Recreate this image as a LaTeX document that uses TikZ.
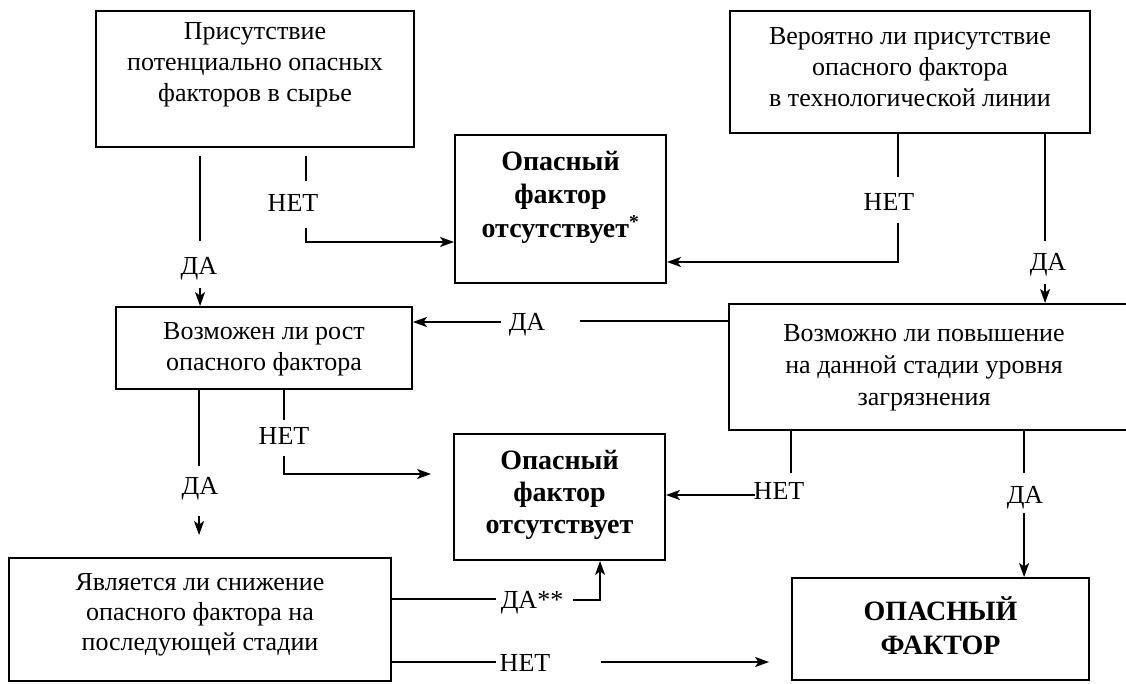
\documentclass[tikz,border=0pt]{standalone}
\usepackage{fontspec}
\setmainfont{Liberation Serif}
\usetikzlibrary{arrows.meta,calc}
\begin{document}
\begin{tikzpicture}[x=1pt,y=-1pt,
  box/.style={draw, line width=1.9pt, inner sep=0pt, rectangle},
  txt/.style={align=center, font=\fontsize{26}{31}\selectfont, inner sep=0pt},
  btxt/.style={align=center, font=\fontsize{28}{33.5}\selectfont\bfseries, inner sep=0pt},
  lab/.style={font=\fontsize{26}{31}\selectfont, inner sep=0pt, text height=17.2pt, text depth=0pt},
  con/.style={line width=1.7pt},
  arr/.style={con, -{Stealth[length=14pt,width=10pt,inset=3.5pt]}},
]
\useasboundingbox (0,0) rectangle (1126,684);
\fill[white] (0,0) rectangle (1126,684);

% boxes
\node[box, minimum width=318pt, minimum height=136pt] (A) at (255,79) {};
\node[box, minimum width=211pt, minimum height=148pt] (B) at (560.5,209) {};
\node[box, minimum width=360pt, minimum height=122pt] (C) at (910,72) {};
\node[box, minimum width=296pt, minimum height=82pt] (D) at (264,348) {};
\node[box, minimum width=399pt, minimum height=126pt] (E) at (928.5,367) {};
\node[box, minimum width=382pt, minimum height=123pt] (F) at (200,619.5) {};
\node[box, minimum width=211pt, minimum height=126pt] (G) at (559.5,497) {};
\node[box, minimum width=297pt, minimum height=102pt] (H) at (940.5,629) {};

% box texts
\node[txt] (At) at ($(A.center)+(0,-14)$) {Присутствие\\потенциально опасных\\факторов в сырье};
\node[btxt] (Bt) at ($(B.center)+(0,-12)$) {Опасный\\фактор\\отсутствует\textsuperscript{*}};
\node[txt] (Ct) at ($(C.center)+(0,-5)$) {Вероятно ли присутствие\\опасного фактора\\в технологической линии};
\node[txt] (Dt) at ($(D.center)+(0,1.5)$) {Возможен ли рост\\опасного фактора};
\node[txt, font=\fontsize{26}{32}\selectfont] (Et) at ($(E.center)+(-4.5,1)$) {Возможно ли повышение\\на данной стадии уровня\\загрязнения};
\node[txt, font=\fontsize{26}{30}\selectfont] (Ft) at ($(F.center)+(0,-4.5)$) {Является ли снижение\\опасного фактора на\\последующей стадии};
\node[btxt, font=\fontsize{28}{32}\selectfont\bfseries] (Gt) at ($(G.center)+(0,-2)$) {Опасный\\фактор\\отсутствует};
\node[btxt, font=\fontsize{28}{34}\selectfont\bfseries] (Ht) at ($(H.center)+(0,-3)$) {ОПАСНЫЙ\\ФАКТОР};

% A -> D (yes)
\draw[con] ($(A.south west)+(105,8)$) -- ++(0,85);
\draw[arr] ($(D.north west)+(85,-18)$) -- ($(D.north west)+(85,0)$);
\node[lab] (l1) at (199,266) {ДА};

% A -> B (no)
\draw[con] ($(A.south west)+(211,8)$) -- ++(0,25);
\draw[arr] ($(A.south west)+(211,80)$) |- ($(B.west)+(0,33)$);
\node[lab] (l2) at (293,203) {НЕТ};

% C -> B (no)
\draw[con] ($(C.south west)+(169,0)$) -- ++(0,43);
\draw[arr] ($(C.south west)+(169,89)$) |- ($(B.east)+(0,53)$);
\node[lab] (l3) at (889,202) {НЕТ};

% C -> E (yes)
\draw[con] ($(C.south west)+(316,0)$) -- ++(0,107);
\draw[arr] ($(E.north west)+(317,-19)$) -- ($(E.north west)+(317,0)$);
\node[lab] (l4) at (1048,262) {ДА};

% E -> D (yes)
\draw[con] ($(E.north west)+(0,18)$) -- ++(-148,0);
\draw[arr] ($(D.east)+(88,-26)$) -- ($(D.east)+(0,-26)$);
\node[lab] (l5) at (527,322) {ДА};

% D -> F (yes)
\draw[con] ($(D.south west)+(84,0)$) -- ++(0,76);
\draw[arr] ($(F.north west)+(191,-41)$) -- ($(F.north west)+(191,-22)$);
\node[lab] (l6) at (200,486) {ДА};

% D -> G (no)
\draw[con] ($(D.south west)+(169,0)$) -- ++(0,30);
\draw[arr] ($(D.south west)+(169,66)$) |- ($(G.west)+(-22,-23)$);
\node[lab] (l7) at (284,436) {НЕТ};

% E -> G (no)
\draw[con] ($(E.south west)+(63,0)$) -- ++(0,42);
\draw[arr] ($(G.east)+(89,-2)$) -- ($(G.east)+(0,-2)$);
\node[lab] (l8) at (779,491) {НЕТ};

% E -> H (yes)
\draw[con] ($(E.south west)+(296,0)$) -- ++(0,42);
\draw[arr] ($(H.north west)+(233,-64)$) -- ($(H.north west)+(233,0)$);
\node[lab] (l9) at (1025,495) {ДА};

% F -> G (yes**)
\draw[con] ($(F.east)+(0,-20.5)$) -- ++(104,0);
\draw[arr] ($(G.south west)+(120,39)$) -| ($(G.south west)+(147,0)$);
\node[lab] (l10) at (532,600) {ДА**};

% F -> H (no)
\draw[con] ($(F.east)+(0,42.5)$) -- ++(104,0);
\draw[arr] ($(H.west)+(-190,33)$) -- ($(H.west)+(-22,33)$);
\node[lab] (l11) at (525,663) {НЕТ};
\end{tikzpicture}
\end{document}
